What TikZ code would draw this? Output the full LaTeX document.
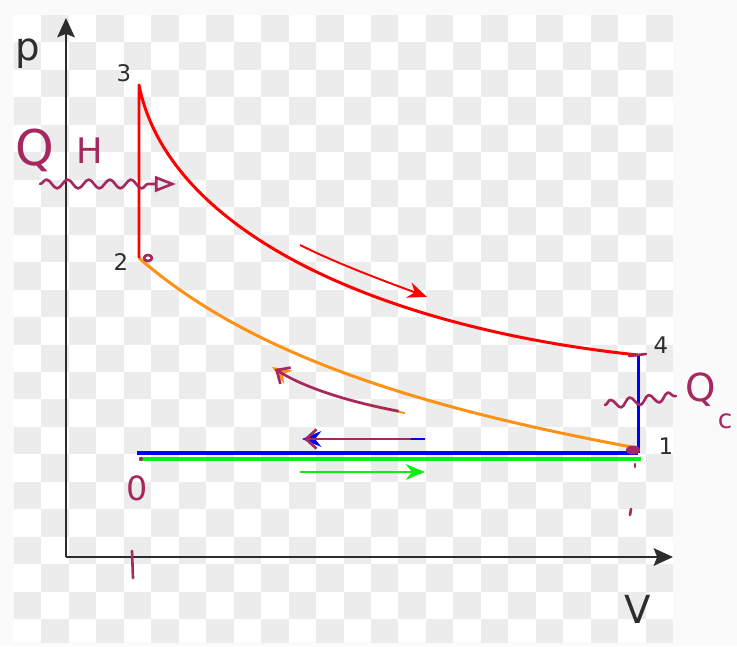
\documentclass[tikz,border=0pt]{standalone}
\usepackage{fontspec}
\setmainfont{DejaVu Sans}
\usetikzlibrary{arrows.meta,decorations.pathmorphing}
\definecolor{pvred}{RGB}{255,0,0}
\definecolor{pvorange}{RGB}{255,145,20}
\definecolor{pvblue}{RGB}{0,0,255}
\definecolor{pvgreen}{RGB}{20,235,20}
\definecolor{handc}{RGB}{165,40,95}
\definecolor{axgray}{RGB}{45,45,45}
\definecolor{chk}{RGB}{236,236,236}
\definecolor{outbg}{RGB}{250,250,250}
\tikzset{
  axl/.style={-{Stealth[length=11pt, width=10pt, inset=2pt]}, axgray, line width=1.3pt},
  bigl/.style={font=\fontsize{22}{22}\selectfont, text=axgray, inner sep=0pt},
  numl/.style={font=\fontsize{13}{13}\selectfont, text=axgray, inner sep=0pt},
  crv/.style={line width=1.7pt, line join=round},
  dirar/.style={-{Stealth[length=11pt, width=9pt]}, line width=1.1pt},
  hand/.style={draw=handc, line width=1.5pt, line cap=round, line join=round},
  hbarb/.style={-{Straight Barb[length=6pt, width=11pt]}},
  htxt/.style={text=handc, inner sep=0pt},
  wavy/.style={hand, decorate, decoration={snake, amplitude=2.5pt, segment length=12pt}},
}

\begin{document}
\begin{tikzpicture}[x=0.02cm, y=-0.02cm]
 \useasboundingbox (0,0) rectangle (737,646);
 \fill[outbg] (0,0) rectangle (737,646);
 % checkered background
 \begin{scope}
   \clip (14,15) rectangle (673,642);
   \fill[white] (14,15) rectangle (673,642);
   \foreach \i in {0,...,23}{
     \foreach \j in {0,...,22}{
       \ifodd\numexpr\i+\j\relax
         \fill[chk] ({14+27.46*\i},{15+27.46*\j}) rectangle +(27.46,27.46);
       \fi}}
 \end{scope}

 % axes
 \coordinate (org) at (66,557);
 \coordinate (ytip) at (66,18);
 \coordinate (xtip) at (673,557);
 \draw[axl] (org) -- (ytip);
 \draw[axl] (org) -- (xtip);
 \node[bigl] (lp) at (28,54) {p};
 \node[bigl] (lv) at (638,609) {V};

 % cycle
 \coordinate (p3) at (139,85);
 \coordinate (p2) at (139,258);
 \coordinate (p4) at (638,355);
 \coordinate (p1) at (637,448);
 \coordinate (b0) at (137,453);
 \coordinate (b1) at (638,453);
 \coordinate (g0) at (139,459);
 \coordinate (g1) at (641,459);
 \draw[crv, pvgreen, line width=2.3pt] (g0) -- (g1);
 \draw[crv, pvblue, line width=2.3pt] (b0) -- (b1);
 \draw[crv, pvblue] (b1) -- (p4);
 \draw[crv, pvorange] (p2) .. controls (250,355) and (420,408) .. (p1);
 \draw[crv, pvred] (p2) -- (p3) .. controls (168,232) and (380,328) .. (p4);
 \node[numl] (l3) at (124,73) {3};
 \node[numl] (l2) at (121,262) {2};
 \node[numl] (l4) at (661,345) {4};
 \node[numl] (l1) at (666,446) {1};

 % direction arrows
 \draw[dirar, pvred] (300,245) .. controls (340,265) and (390,283) .. (427,297);
 \draw[dirar, pvorange] (405,413) .. controls (345,402) and (302,386) .. (272,367);
 \draw[dirar, pvblue, line width=1pt] (425,439) -- (302,439);
 \draw[dirar, pvgreen, line width=1.3pt] (300,472) -- (425,472);

 % hand notes
 \draw[hand, hbarb] (398,411) .. controls (340,400) and (300,385) .. (275,369);
 \draw[hand, hbarb] (410,439) -- (304,439);
 \node[htxt, font=\fontsize{28}{28}\selectfont] (qh) at (35,150) {Q};
 \node[htxt, font=\fontsize{20}{20}\selectfont] (hh) at (90,151) {H};
 \coordinate (wh0) at (40,184);
 \coordinate (wh1) at (176,184);
 \draw[wavy, decoration={post length=14pt}, -{Triangle[open, length=12pt, width=9pt]}] (wh0) -- (wh1);
 \coordinate (wc0) at (605,405);
 \coordinate (wc1) at (676,396);
 \draw[wavy, decoration={segment length=11pt}] (wc0) -- (wc1);
 \node[htxt, font=\fontsize{22}{22}\selectfont] (qc) at (701,390) {Q};
 \node[htxt, font=\fontsize{15}{15}\selectfont] (qcs) at (725,421) {c};
 \node[htxt, font=\fontsize{19}{19}\selectfont] (l0) at (137,488) {0};
 \draw[hand] (148,258) ellipse [x radius=4, y radius=3];
 \fill[handc] (633,450) ellipse [x radius=7, y radius=4.5];
 \draw[hand] (629,356) -- (646,354);
 \draw[hand] (132,551) -- (133,578);
 \fill[handc] (141,459) circle [radius=2];
 \draw[hand] (635,464) -- (635,467);
 \draw[hand] (631,509) -- (630,515);
\end{tikzpicture}
\end{document}
